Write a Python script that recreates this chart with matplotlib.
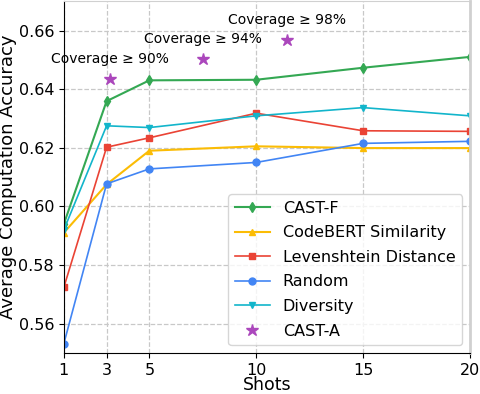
import matplotlib
matplotlib.use("Agg")
import matplotlib.pyplot as plt

shots = [1, 3, 5, 10, 15, 20]
cast_f = [0.5940, 0.6359, 0.6430, 0.6432, 0.6473, 0.6510]
codebert = [0.5910, 0.6075, 0.6190, 0.6205, 0.6199, 0.6199]
levenshtein = [0.5724, 0.6202, 0.6234, 0.6318, 0.6258, 0.6256]
random_sel = [0.5532, 0.6077, 0.6128, 0.6150, 0.6215, 0.6222]
diversity = [0.5920, 0.6275, 0.6269, 0.6309, 0.6337, 0.6309]

cast_a_x = [3.15, 7.5, 11.45]
cast_a_y = [0.6433, 0.6502, 0.6566]
cast_a_labels = ["Coverage ≥ 90%", "Coverage ≥ 94%", "Coverage ≥ 98%"]

xticks = [1, 3, 5, 10, 15, 20]
yticks = [0.56, 0.58, 0.60, 0.62, 0.64, 0.66]

fig = plt.figure(figsize=(4.8, 3.94), dpi=100)
ax = fig.add_axes([0.133, 0.104, 0.846, 0.893])

ax.plot(shots, cast_f, color="#34A853", marker="d", markersize=5, lw=1.5, label="CAST-F")
ax.plot(shots, codebert, color="#FBBC05", marker="^", markersize=5, lw=1.5, label="CodeBERT Similarity")
ax.plot(shots, levenshtein, color="#EA4335", marker="s", markersize=5, lw=1.2, label="Levenshtein Distance")
ax.plot(shots, random_sel, color="#4285F4", marker="o", markersize=5, lw=1.2, label="Random")
ax.plot(shots, diversity, color="#12B5CB", marker="v", markersize=5, lw=1.2, label="Diversity")
ax.plot(cast_a_x, cast_a_y, color="#AB47BC", marker="*", markersize=9, lw=0, label="CAST-A")

for x, y, t in zip(cast_a_x, cast_a_y, cast_a_labels):
    ax.annotate(t, (x, y), xytext=(0, 14.5), textcoords="offset points",
                ha="center", va="center", fontsize=10)

ax.set_xlim(1, 20)
ax.set_ylim(0.55, 0.67)
ax.set_xticks(xticks)
ax.set_yticks(yticks)
ax.set_yticklabels([f"{v:.2f}" for v in yticks])
ax.tick_params(labelsize=11.5)
ax.grid(True, linestyle="--", color="#c8c8c8", lw=0.9)
ax.set_xlabel("Shots", fontsize=12.5, labelpad=-1)
ax.set_ylabel("Average Computation Accuracy", fontsize=13)
ax.yaxis.set_label_coords(-0.116, 0.5)

for s in ["top", "right"]:
    ax.spines[s].set_color("#d0d0d0")
ax.spines["right"].set_linewidth(2)

ax.legend(loc="lower right", fontsize=11.5, handlelength=2.2, labelspacing=0.6,
          borderaxespad=0.5)

fig.savefig("out.png", dpi=100)
